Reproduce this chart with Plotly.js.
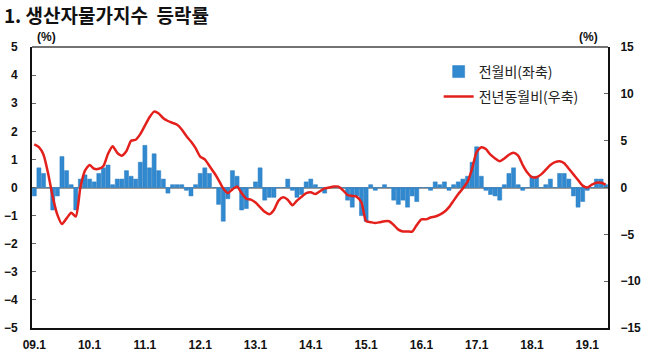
<!DOCTYPE html>
<html><head><meta charset="utf-8">
<script src="https://cdn.plot.ly/plotly-3.0.1.min.js"></script>
<style>html,body{margin:0;padding:0;background:#fff}#chart{width:650px;height:360px}</style>
</head><body><div id="chart"></div>
<script>
// Category labels: monthly, 09.1 .. 19.5
const startYear = 2009;
const monthCount = 125;
const months = [];
for (let k = 0; k < monthCount; k++) {
  const yy = startYear + Math.floor(k / 12), mm = (k % 12) + 1;
  months.push(String(yy % 100).padStart(2, '0') + '.' + mm);
}
const tickLabels = ['09.1','10.1','11.1','12.1','13.1','14.1','15.1','16.1','17.1','18.1','19.1'];

// 전월비 (%), left axis
const momChange = [
  -0.3, 0.7, 0.5, 0.0, -0.8, -0.3, 1.1, 0.6, 0.1, -0.8, 0.3, 0.45,
  0.3, 0.2, 0.5, 0.7, 0.8, 0.1, 0.3, 0.3, 0.6, 0.4, 0.3, 0.9,
  1.5, 0.7, 1.2, 0.6, 0.3, -0.2, 0.1, 0.1, 0.1, -0.1, -0.3, 0.1,
  0.5, 0.7, 0.5, 0.0, -0.6, -1.2, -0.4, 0.6, 0.4, -0.8, -0.75, 0.0,
  0.2, 0.7, -0.45, -0.35, -0.35, 0.0, 0.0, 0.3, -0.1, -0.35, -0.25, 0.2,
  0.3, 0.1, 0.0, -0.2, 0.0, 0.0, 0.0, 0.0, -0.45, -0.7, -0.3, -1.0,
  -1.2, 0.1, -0.1, 0.0, 0.1, 0.0, -0.45, -0.6, -0.45, -0.7, -0.3, -0.5,
  0.0, 0.0, -0.1, 0.2, 0.1, 0.2, -0.1, 0.1, 0.2, 0.3, 0.4, 0.9,
  1.45, 0.4, -0.1, -0.25, -0.3, -0.45, 0.1, 0.5, 0.7, 0.1, -0.1, 0.0,
  0.4, 0.4, 0.0, 0.1, 0.3, 0.0, 0.5, 0.5, 0.3, -0.3, -0.7, -0.5,
  -0.1, 0.0, 0.3, 0.3, 0.1
];

// 전년동월비 (%), right axis
const yoyChange = [
  4.6, 4.3, 3.5, 1.5, -1.0, -2.9, -3.9, -3.3, -2.7, -3.1, 0.0, 1.8,
  2.4, 2.0, 2.0, 2.3, 3.6, 4.4, 3.7, 3.4, 3.9, 5.0, 5.1, 5.7,
  6.6, 7.5, 8.1, 7.9, 7.4, 7.1, 6.9, 6.7, 6.2, 5.5, 4.9, 4.2,
  3.3, 3.0, 2.3, 1.6, 0.8, -0.1, -0.6, -0.2, 0.1, -0.6, -1.2, -1.3,
  -1.6, -2.1, -2.6, -2.85, -2.4, -1.4, -1.05, -1.3, -1.9, -1.4, -1.0, -0.6,
  -0.5, -0.7, -0.4, -0.1, 0.0, 0.1, 0.1, -0.3, -0.8, -0.9, -1.0, -1.6,
  -3.6, -3.7, -3.8, -3.7, -3.6, -3.6, -4.0, -4.5, -4.7, -4.7, -4.7, -4.0,
  -3.4, -3.4, -3.2, -3.1, -2.9, -2.6, -2.1, -1.4, -0.7, -0.1, 0.6, 2.0,
  3.8, 4.3, 4.1, 3.5, 3.1, 2.8, 3.1, 3.5, 3.7, 3.4, 2.4, 1.6,
  1.1, 1.1, 1.4, 1.9, 2.4, 2.7, 2.8, 2.6, 2.0, 1.4, 0.8, 0.2,
  0.0, 0.3, 0.5, 0.5, 0.3
];

const numFont = 'Arial, "Liberation Sans", sans-serif';
const korFont = '"Noto Sans CJK KR", "Noto Sans", sans-serif';
const tickFont = {family: numFont, size: 12, color: '#111', weight: 'bold'};

const traces = [
  {
    type: 'bar', x: months, y: momChange, name: '전월비(좌축)', yaxis: 'y', legend: 'legend',
    marker: {color: '#3189d0', line: {color: '#2a7cc0', width: 0.5}}
  },
  {
    type: 'scatter', mode: 'lines', x: months, y: yoyChange, name: '전년동월비(우축)', yaxis: 'y2', legend: 'legend2',
    line: {color: '#e3201c', width: 2.5, shape: 'spline', smoothing: 0.6}
  }
];

const layout = {
  width: 650, height: 360,
  margin: {l: 32, r: 42, t: 47, b: 32},
  paper_bgcolor: '#fff', plot_bgcolor: '#fff',
  bargap: 0.12,
  showlegend: true,
  title: {
    text: '1. 생산자물가지수\u00a0 등락률', x: 0.006, xanchor: 'left', y: 0.955, yanchor: 'middle',
    font: {family: korFont, size: 19, color: '#111', weight: 'bold'}
  },
  xaxis: {
    type: 'category', range: [-0.5, 124.5], tickvals: tickLabels, ticktext: tickLabels,
    showline: true, linecolor: '#111', linewidth: 2, ticks: '', showgrid: false, zeroline: false,
    tickfont: tickFont, ticklabelstandoff: 5, tickangle: 0
  },
  yaxis: {
    range: [-5, 5], dtick: 1, showline: true, linecolor: '#111', linewidth: 2,
    ticks: 'inside', ticklen: 4, tickcolor: '#666', showgrid: false,
    zeroline: true, zerolinecolor: '#9a9a9a', zerolinewidth: 2,
    tickfont: tickFont, ticklabelstandoff: 10
  },
  yaxis2: {
    overlaying: 'y', side: 'right', range: [-15, 15], dtick: 5,
    showline: true, linecolor: '#111', linewidth: 2,
    ticks: 'inside', ticklen: 4, tickcolor: '#666', showgrid: false, zeroline: false,
    tickfont: tickFont, ticklabelstandoff: 8
  },
  legend: {
    x: 0.706, xanchor: 'left', y: 0.911, yanchor: 'middle', bgcolor: 'rgba(0,0,0,0)',
    font: {family: korFont, size: 14, color: '#222'}
  },
  legend2: {
    x: 0.706, xanchor: 'left', y: 0.822, yanchor: 'middle', bgcolor: 'rgba(0,0,0,0)',
    font: {family: korFont, size: 14, color: '#222'}
  },
  shapes: [
    {type: 'line', xref: 'paper', yref: 'paper', x0: 0, x1: 1, y0: 1, y1: 1, line: {color: '#444', width: 1.5}}
  ],
  annotations: [
    {text: '(%)', xref: 'paper', yref: 'paper', x: 0.025, y: 1.036, xanchor: 'center', yanchor: 'middle', showarrow: false,
     font: {family: numFont, size: 12, color: '#111', weight: 'bold'}},
    {text: '(%)', xref: 'paper', yref: 'paper', x: 0.967, y: 1.036, xanchor: 'center', yanchor: 'middle', showarrow: false,
     font: {family: numFont, size: 12, color: '#111', weight: 'bold'}}
  ]
};

Plotly.newPlot('chart', traces, layout, {displayModeBar: false, staticPlot: true});
</script>
</body></html>
